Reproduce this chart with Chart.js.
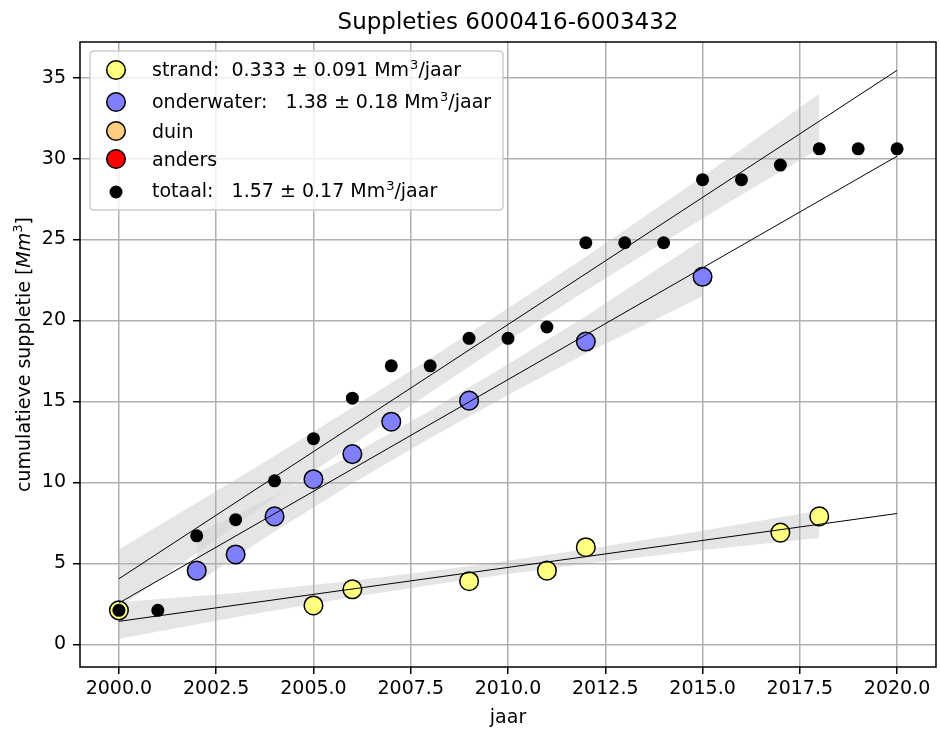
<!DOCTYPE html>
<html lang="nl">
<head>
    <meta charset="UTF-8">
    <title>Suppleties 6000416-6003432</title>
    <script src="https://cdn.jsdelivr.net/npm/chart.js"></script>
    <style>
        body {
            margin: 0;
            background: #ffffff;
        }
        #wrap {
            width: 940px;
            height: 729px;
        }
    </style>
</head>
<body>
    <div id="wrap"><canvas id="chart" width="940" height="729"></canvas></div>

    <script>
        const FONT = "'DejaVu Sans', 'Liberation Sans', sans-serif";

        // cumulatieve suppletie per jaar (Mm3)
        const strandYears = [2000, 2005, 2006, 2009, 2011, 2012, 2017, 2018];
        const strandValues = [2.1, 2.4, 3.4, 3.9, 4.55, 6.0, 6.9, 7.9];

        const onderwaterYears = [2002, 2003, 2004, 2005, 2006, 2007, 2009, 2012, 2015];
        const onderwaterValues = [4.55, 5.55, 7.9, 10.2, 11.75, 13.75, 15.05, 18.7, 22.7];

        const duinYears = [];
        const duinValues = [];
        const andersYears = [];
        const andersValues = [];

        const totaalYears = [2000, 2001, 2002, 2003, 2004, 2005, 2006, 2007, 2008, 2009, 2010,
                             2011, 2012, 2013, 2014, 2015, 2016, 2017, 2018, 2019, 2020];
        const totaalValues = [2.1, 2.1, 6.7, 7.7, 10.1, 12.7, 15.2, 17.2, 17.2, 18.9, 18.9,
                              19.6, 24.8, 24.8, 24.8, 28.7, 28.7, 29.6, 30.6, 30.6, 30.6];

        // trendlijnen (begin- en eindpunt)
        const fitYears = [2000, 2020];
        const totaalFit = [4.05, 35.45];
        const onderwaterFit = [2.55, 30.15];
        const strandFit = [1.42, 8.08];

        // betrouwbaarheidsbanden
        const totaalBandYears = [2000, 2002, 2004, 2006, 2008, 2010, 2012, 2014, 2016, 2018];
        const totaalBandHigh = [5.85, 8.74, 11.63, 14.62, 17.66, 20.75, 23.94, 27.23, 30.57, 34.0];
        const totaalBandLow = [2.25, 5.64, 9.03, 12.32, 15.56, 18.75, 21.84, 24.83, 27.77, 30.6];

        const onderwaterBandYears = [2002, 2004, 2006, 2008, 2010, 2012, 2015];
        const onderwaterBandHigh = [6.81, 9.17, 11.73, 14.44, 17.3, 20.26, 25.0];
        const onderwaterBandLow = [3.81, 6.97, 9.93, 12.74, 15.4, 17.96, 21.5];

        const strandBandYears = [2000, 2003, 2006, 2009, 2012, 2015, 2018];
        const strandBandHigh = [2.6, 3.17, 3.92, 4.82, 5.87, 7.02, 8.26];
        const strandBandLow = [0.35, 1.67, 2.92, 4.02, 4.97, 5.82, 6.56];

        const xTicks = [2000, 2002.5, 2005, 2007.5, 2010, 2012.5, 2015, 2017.5, 2020];
        const yTicks = [0, 5, 10, 15, 20, 25, 30, 35];

        const legendNames = ['strand:  0.333 ± 0.091 Mm', 'onderwater:   1.38 ± 0.18 Mm', 'duin', 'anders', 'totaal:   1.57 ± 0.17 Mm'];
        const legendSup = ['3', '3', '', '', '3'];
        const legendTail = ['/jaar', '/jaar', '', '', '/jaar'];
        const legendColors = ['#ffff80', '#8080ff', '#ffcc80', '#ff0000', '#000000'];

        const BAND = 'rgba(211, 211, 211, 0.6)';
        const NONE = 'rgba(0, 0, 0, 0)';

        function pts(xs, ys) {
            return xs.map((x, i) => ({ x: x, y: ys[i] }));
        }

        function fitLine(ys, order) {
            return {
                data: pts(fitYears, ys),
                borderColor: '#000000',
                borderWidth: 1,
                pointRadius: 0,
                fill: false,
                order: order
            };
        }

        function marks(xs, ys, color, radius, order) {
            return {
                data: pts(xs, ys),
                showLine: false,
                pointRadius: radius,
                pointBackgroundColor: color,
                pointBorderColor: '#000000',
                pointBorderWidth: color === '#000000' ? 0 : 1.5,
                order: order
            };
        }

        function bandEdge(xs, ys, fill, order) {
            return {
                data: pts(xs, ys),
                borderColor: NONE,
                borderWidth: 1,
                pointRadius: 0,
                backgroundColor: BAND,
                fill: fill,
                order: order
            };
        }

        const datasets = [
            fitLine(totaalFit, 0),
            fitLine(onderwaterFit, 0),
            fitLine(strandFit, 0),
            marks(totaalYears, totaalValues, '#000000', 6.5, 1),
            marks(andersYears, andersValues, '#ff0000', 9.3, 2),
            marks(duinYears, duinValues, '#ffcc80', 9.3, 3),
            marks(onderwaterYears, onderwaterValues, '#8080ff', 9.3, 4),
            marks(strandYears, strandValues, '#ffff80', 9.3, 5),
            bandEdge(totaalBandYears, totaalBandHigh, '+1', 6),
            bandEdge(totaalBandYears, totaalBandLow, false, 6),
            bandEdge(onderwaterBandYears, onderwaterBandHigh, '+1', 6),
            bandEdge(onderwaterBandYears, onderwaterBandLow, false, 6),
            bandEdge(strandBandYears, strandBandHigh, '+1', 6),
            bandEdge(strandBandYears, strandBandLow, false, 6)
        ];

        // kader, titels en legenda
        const decorations = {
            id: 'decorations',
            afterDatasetsDraw(chart) {
                const ctx = chart.ctx;
                const a = chart.chartArea;
                ctx.save();
                ctx.strokeStyle = '#000000';
                ctx.lineWidth = 1.5;
                ctx.strokeRect(a.left, a.top, a.right - a.left, a.bottom - a.top);
                ctx.restore();
            },
            afterDraw(chart) {
                const ctx = chart.ctx;
                const a = chart.chartArea;
                const cx = (a.left + a.right) / 2;
                ctx.save();
                ctx.fillStyle = '#000000';

                // titel
                ctx.font = '23px ' + FONT;
                ctx.textAlign = 'center';
                ctx.textBaseline = 'alphabetic';
                ctx.fillText('Suppleties 6000416-6003432', cx, 29);

                // x-as titel
                ctx.font = '19px ' + FONT;
                ctx.fillText('jaar', cx, 723);

                // y-as titel
                ctx.save();
                ctx.translate(30, (a.top + a.bottom) / 2);
                ctx.rotate(-Math.PI / 2);
                ctx.textAlign = 'left';
                const parts = [
                    ['cumulatieve suppletie [', '19px ' + FONT, 0],
                    ['Mm', 'oblique 19px ' + FONT, 0],
                    ['3', '13px ' + FONT, -8],
                    [']', '19px ' + FONT, 0]
                ];
                let total = 0;
                parts.forEach(p => { ctx.font = p[1]; total += ctx.measureText(p[0]).width; });
                let px = -total / 2;
                parts.forEach(p => {
                    ctx.font = p[1];
                    ctx.fillText(p[0], px, p[2]);
                    px += ctx.measureText(p[0]).width;
                });
                ctx.restore();

                // legenda
                const bx = 90, by = 51, bw = 413, bh = 159, r = 4;
                ctx.beginPath();
                ctx.moveTo(bx + r, by);
                ctx.lineTo(bx + bw - r, by);
                ctx.quadraticCurveTo(bx + bw, by, bx + bw, by + r);
                ctx.lineTo(bx + bw, by + bh - r);
                ctx.quadraticCurveTo(bx + bw, by + bh, bx + bw - r, by + bh);
                ctx.lineTo(bx + r, by + bh);
                ctx.quadraticCurveTo(bx, by + bh, bx, by + bh - r);
                ctx.lineTo(bx, by + r);
                ctx.quadraticCurveTo(bx, by, bx + r, by);
                ctx.closePath();
                ctx.fillStyle = 'rgba(255, 255, 255, 0.8)';
                ctx.fill();
                ctx.strokeStyle = '#cccccc';
                ctx.lineWidth = 1.5;
                ctx.stroke();

                const markY = [70, 102, 131, 159, 192];
                const textY = [76, 108, 138, 166, 197];
                ctx.textAlign = 'left';
                legendNames.forEach((name, i) => {
                    ctx.beginPath();
                    const black = legendColors[i] === '#000000';
                    ctx.arc(116, markY[i], black ? 6.5 : 9.3, 0, Math.PI * 2);
                    ctx.fillStyle = legendColors[i];
                    ctx.fill();
                    if (!black) {
                        ctx.strokeStyle = '#000000';
                        ctx.lineWidth = 1.5;
                        ctx.stroke();
                    }
                    ctx.fillStyle = '#000000';
                    let tx = 152;
                    ctx.font = '19px ' + FONT;
                    ctx.fillText(name, tx, textY[i]);
                    tx += ctx.measureText(name).width;
                    if (legendSup[i]) {
                        ctx.font = '13px ' + FONT;
                        ctx.fillText(legendSup[i], tx + 1, textY[i] - 7);
                        tx += ctx.measureText(legendSup[i]).width + 1;
                        ctx.font = '19px ' + FONT;
                        ctx.fillText(legendTail[i], tx, textY[i]);
                    }
                });
                ctx.restore();
            }
        };

        const tickFont = { family: FONT, size: 19 };

        new Chart(document.getElementById('chart'), {
            type: 'line',
            data: { datasets: datasets },
            options: {
                responsive: false,
                animation: false,
                events: [],
                layout: {
                    autoPadding: false,
                    padding: { left: 0, right: 4, top: 42, bottom: 0 }
                },
                elements: { line: { tension: 0 } },
                plugins: {
                    legend: { display: false },
                    tooltip: { enabled: false },
                    filler: { drawTime: 'beforeDraw' }
                },
                scales: {
                    x: {
                        type: 'linear',
                        min: 1999,
                        max: 2021,
                        afterBuildTicks: s => { s.ticks = xTicks.map(v => ({ value: v })); },
                        afterFit: s => { s.height = 62; },
                        border: { display: false },
                        grid: { color: '#b0b0b0', lineWidth: 1.5, tickLength: 7, tickColor: '#000000', tickWidth: 1.5 },
                        ticks: {
                            font: tickFont,
                            color: '#000000',
                            padding: 4,
                            maxRotation: 0,
                            autoSkip: false,
                            callback: v => Number(v).toFixed(1)
                        }
                    },
                    y: {
                        type: 'linear',
                        min: -1.4,
                        max: 37.2,
                        afterBuildTicks: s => { s.ticks = yTicks.map(v => ({ value: v })); },
                        afterFit: s => { s.width = 80; },
                        border: { display: false },
                        grid: { color: '#b0b0b0', lineWidth: 1.5, tickLength: 7, tickColor: '#000000', tickWidth: 1.5 },
                        ticks: {
                            font: tickFont,
                            color: '#000000',
                            padding: 7,
                            autoSkip: false,
                            callback: v => String(v)
                        }
                    }
                }
            },
            plugins: [decorations]
        });
    </script>
</body>
</html>
